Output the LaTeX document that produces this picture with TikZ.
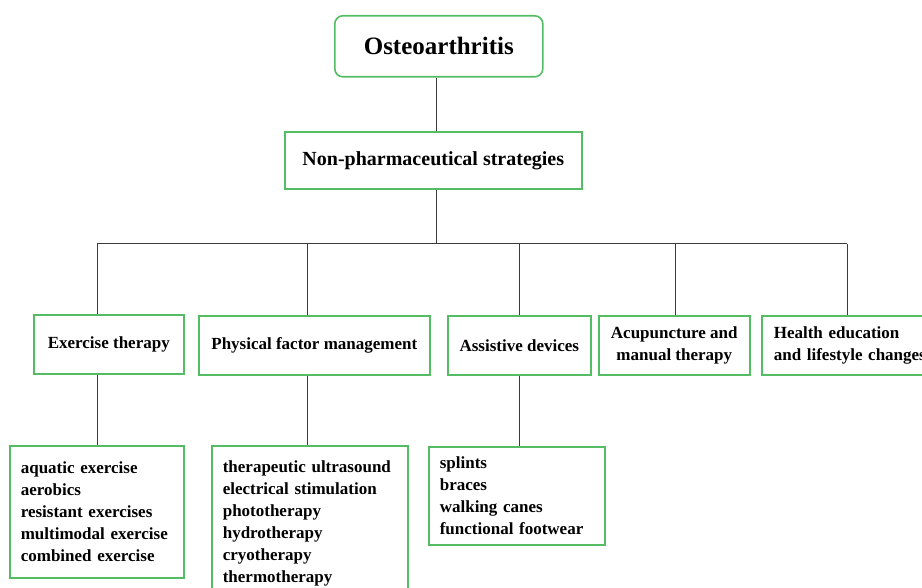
\documentclass[tikz,border=0pt]{standalone}
\usepackage{fontspec}
\setmainfont{Liberation Serif}
\definecolor{boxgreen}{RGB}{84,188,98}
\definecolor{linegray}{RGB}{60,60,60}
\begin{document}
\begin{tikzpicture}[x=1pt,y=-1pt,
  box/.style={draw=boxgreen, line width=1.6pt, inner sep=0pt, anchor=north west,
    font=\bfseries\fontsize{17}{22}\selectfont, text=black},
  listbox/.style={box, inner xsep=11pt, align=left},
  link/.style={draw=linegray, line width=1pt}]
\useasboundingbox (0,0) rectangle (922,588);
% level 0 and 1
\node[box, rounded corners=8pt, minimum width=208, minimum height=61,
  font=\bfseries\fontsize{25}{30}\selectfont] (oa) at (334,15) {Osteoarthritis};
\node[box, minimum width=297, minimum height=57,
  font=\bfseries\fontsize{20}{24}\selectfont] (np) at (284,131) {Non-pharmaceutical strategies};
% level 2
\node[box, minimum width=150, minimum height=59] (ex) at (33,314) {Exercise therapy};
\node[box, minimum width=231, minimum height=59] (pf) at (198,315) {Physical factor management};
\node[box, minimum width=143, minimum height=59] (ad) at (447,315) {Assistive devices};
\node[box, minimum width=151, minimum height=59, align=center] (ac) at (598,315) {Acupuncture and\\manual therapy};
\node[box, minimum width=175, minimum height=59, inner xsep=12pt, text width=170pt, align=left] (he) at (761,315) {Health education\\and lifestyle changes};
% level 3
\node[listbox, minimum width=174, minimum height=132, text width=152pt] (exl) at (9,445)
  {aquatic exercise\\aerobics\\resistant exercises\\multimodal exercise\\combined exercise};
\node[listbox, minimum width=196, text width=174pt, inner ysep=15pt] (pfl) at (211,445)
  {therapeutic ultrasound\\electrical stimulation\\phototherapy\\hydrotherapy\\cryotherapy\\thermotherapy};
\node[listbox, minimum width=176, minimum height=98, text width=154pt] (adl) at (428,446)
  {splints\\braces\\walking canes\\functional footwear};
% junctions
\coordinate (t) at (436,244);
\coordinate (j1) at (97,244);
\coordinate (j2) at (307,244);
\coordinate (j3) at (519,244);
\coordinate (j4) at (675,244);
\coordinate (j5) at (847,244);
% connectors
\draw[link] (oa.south -| t) -- (np.north -| t);
\draw[link] (np.south -| t) -- (t);
\draw[link] (j1) -- (j5);
\draw[link] (j1) -- (j1 |- ex.north);
\draw[link] (j2) -- (j2 |- pf.north);
\draw[link] (j3) -- (j3 |- ad.north);
\draw[link] (j4) -- (j4 |- ac.north);
\draw[link] (j5) -- (j5 |- he.north);
\draw[link] (j1 |- ex.south) -- (j1 |- exl.north);
\draw[link] (j2 |- pf.south) -- (j2 |- pfl.north);
\draw[link] (j3 |- ad.south) -- (j3 |- adl.north);
\end{tikzpicture}
\end{document}
